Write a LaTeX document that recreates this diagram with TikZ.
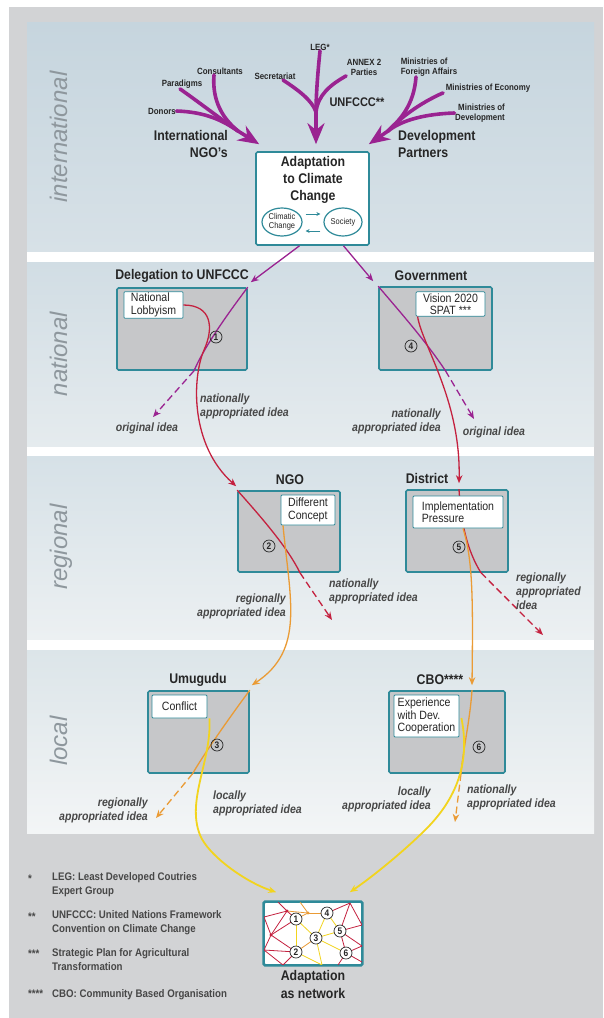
\documentclass[tikz,border=0pt]{standalone}
\usepackage{fontspec}
\setmainfont{Liberation Sans}[FakeStretch=0.88]
\newfontfamily\lvlfont{Liberation Sans}
\usetikzlibrary{arrows.meta, shapes.geometric}
\definecolor{outergray}{HTML}{D2D3D5}
\definecolor{tealc}{HTML}{2F8A99}
\definecolor{boxgray}{HTML}{C6C7C9}
\definecolor{purp}{HTML}{9A2391}
\definecolor{redc}{HTML}{C4213F}
\definecolor{orng}{HTML}{EA9B35}
\definecolor{yell}{HTML}{F2D41E}
\definecolor{txt}{HTML}{262626}
\definecolor{lvl}{HTML}{8E979D}
\definecolor{bandAt}{HTML}{C6D5DE}
\definecolor{bandAb}{HTML}{D7E1E7}
\definecolor{bandBt}{HTML}{D1DDE4}
\definecolor{bandBb}{HTML}{E5EBEE}
\definecolor{bandCt}{HTML}{D6E1E7}
\definecolor{bandCb}{HTML}{ECF0F2}
\definecolor{bandDt}{HTML}{DCE5E9}
\definecolor{bandDb}{HTML}{F3F5F6}

\begin{document}
\begin{tikzpicture}[x=1pt, y=-1pt,
  bigbox/.style={draw=tealc, line width=1.6pt, fill=boxgray, rounded corners=1.5pt, inner sep=0pt},
  tag/.style={draw=tealc, line width=0.8pt, fill=white, rounded corners=1pt, inner sep=1.5pt, font=\fontsize{12}{12.5}\selectfont, text=txt},
  num/.style={circle, draw=txt, line width=0.7pt, fill=none, inner sep=0pt, minimum size=12pt, font=\bfseries\fontsize{9.5}{9.5}\selectfont, text=txt},
  head/.style={font=\bfseries\fontsize{14}{17}\selectfont, text=txt},
  actor/.style={font=\bfseries\fontsize{9}{10}\selectfont, text=txt, align=center, inner sep=0.5pt},
  idea/.style={font=\bfseries\itshape\fontsize{12}{14}\selectfont, text=black!72, inner sep=0pt},
  note/.style={font=\bfseries\fontsize{11}{14}\selectfont, text=black!72, inner sep=0pt, align=left},
  level/.style={rotate=90, anchor=base, font=\lvlfont\itshape\fontsize{24}{24}\selectfont, text=lvl},
  fat/.style={draw=purp, line width=3.6pt, line cap=round},
  fathead/.style={draw=purp, line width=3.6pt, -{Stealth[length=21pt, width=17pt]}},
  idealine/.style={line width=1.3pt},
  ideaarrow/.style={line width=1.3pt, -{Stealth[length=8pt, width=6.5pt]}},
  broken/.style={dash pattern=on 7pt off 4pt},
  netline/.style={line width=0.8pt}]
  \useasboundingbox (0,0) rectangle (603,1018);
  \fill[white] (0,0) rectangle (603,1018);
  \fill[outergray] (9,7) rectangle (603,1018);
  \fill[white] (27,22) rectangle (594,833);
  \shade[top color=bandAt, bottom color=bandAb] (27,22) rectangle (594,251);
  \shade[top color=bandBt, bottom color=bandBb] (27,262) rectangle (594,446);
  \shade[top color=bandCt, bottom color=bandCb] (27,456) rectangle (594,639);
  \shade[top color=bandDt, bottom color=bandDb] (27,650) rectangle (594,833);

  \node[level] (lvint) at (67,137) {international};
  \node[level] (lvnat) at (67,354) {national};
  \node[level] (lvreg) at (67,547) {regional};
  \node[level] (lvloc) at (67,741) {local};

  \node[actor] (donors) at (162,111) {Donors};
  \node[actor] (paradigms) at (182,84) {Paradigms};
  \node[actor] (consult) at (220,71) {Consultants};
  \node[actor] (secret) at (275,76) {Secretariat};
  \node[actor] (leg) at (320,47) {LEG*};
  \node[actor] (annex) at (364,67) {ANNEX 2\\Parties};
  \node[actor, align=left] (foreign) at (429,67) {Ministries of\\Foreign Affairs};
  \node[actor] (economy) at (488,88) {Ministries of Economy};
  \node[actor, align=right] (develop) at (480,113) {Ministries of\\Development};
  \node[head, align=right, anchor=east, inner sep=0pt] (intngo) at (228,144) {International\\NGO's};
  \node[head, font=\bfseries\fontsize{12.5}{14}\selectfont] (unfccc) at (357,102) {UNFCCC**};
  \node[head, align=left, anchor=west, inner sep=0pt] (devpart) at (398,144) {Development\\Partners};

  \node[bigbox, fill=white, minimum width=113pt, minimum height=93pt] (adapt) at (312.5,198.5) {};
  \node[head, align=center] (adtitle) at (313,180) {Adaptation\\to Climate\\Change};
  \node[ellipse, draw=tealc, line width=1.2pt, fill=white, minimum width=40pt, minimum height=28pt, inner sep=0pt, font=\fontsize{8.5}{9}\selectfont, text=txt, align=center] (clim) at (282,222) {Climatic\\Change};
  \node[ellipse, draw=tealc, line width=1.2pt, fill=white, minimum width=38pt, minimum height=28pt, inner sep=0pt, font=\fontsize{8.5}{9}\selectfont, text=txt] (soc) at (343,222) {Society};
  \draw[tealc, line width=1pt, -{Stealth[length=4pt, width=4pt]}] ([shift={(3pt,8pt)}]clim.east) -- ([shift={(-3pt,8pt)}]soc.west);
  \draw[tealc, line width=1pt, -{Stealth[length=4pt, width=4pt]}] ([shift={(-3pt,-9pt)}]soc.west) -- ([shift={(3pt,-9pt)}]clim.east);

  \coordinate (mngo) at (238,131);
  \coordinate (munf) at (316,112);
  \coordinate (mdev) at (388,131);
  \draw[fat] (donors.east) .. controls (205,112) and (222,120) .. (mngo);
  \draw[fat] ([xshift=-2pt]paradigms.south) .. controls (200,103) and (222,120) .. (mngo);
  \draw[fat] ([xshift=-6pt]consult.south) .. controls (212,100) and (222,118) .. (mngo);
  \draw[fathead] (mngo) -- ([shift={(4pt,7pt)}]adapt.north west);
  \draw[fat] ([xshift=8pt]secret.south) .. controls (298,90) and (312,100) .. (munf);
  \draw[fat] (leg.south) .. controls (317,80) and (316,100) .. (munf);
  \draw[fat] (annex.south west) .. controls (330,85) and (318,95) .. (munf);
  \draw[fathead] (munf) -- ([shift={(3.5pt,7pt)}]adapt.north);
  \draw[fat] ([xshift=-13pt]foreign.south) .. controls (414,105) and (400,120) .. (mdev);
  \draw[fat] ([xshift=-2pt]economy.south west) .. controls (420,103) and (400,118) .. (mdev);
  \draw[fat] (develop.west) .. controls (425,114) and (402,120) .. (mdev);
  \draw[fathead] (mdev) -- ([shift={(-1pt,7pt)}]adapt.north east);

  \node[bigbox, minimum width=130pt, minimum height=82pt] (dele) at (182,329) {};
  \node[head] (deleh) at (182,276) {Delegation to UNFCCC};
  \node[bigbox, minimum width=113pt, minimum height=83pt] (govt) at (435.5,328.5) {};
  \node[head] (govth) at (431,276) {Government};
  \node[bigbox, minimum width=102pt, minimum height=81pt] (ngo) at (289,531.5) {};
  \node[head] (ngoh) at (290,480) {NGO};
  \node[bigbox, minimum width=102pt, minimum height=82pt] (dist) at (457,531) {};
  \node[head] (disth) at (427,478) {District};
  \node[bigbox, minimum width=101pt, minimum height=82pt] (umug) at (198.5,732) {};
  \node[head] (umugh) at (198,680) {Umugudu};
  \node[bigbox, minimum width=116pt, minimum height=82pt] (cbo) at (447,732) {};
  \node[head] (cboh) at (440,680) {CBO****};
  \node[bigbox, fill=white, minimum width=98pt, minimum height=63pt] (net) at (313,933.5) {};
  \node[head, align=center, font=\bfseries\fontsize{14}{18}\selectfont] (neth) at (313,984) {Adaptation\\as network};

  \coordinate (oi1) at (153,417);
  \coordinate (oi2) at (474,419);
  \coordinate (ni1) at (332,620);
  \coordinate (ri1) at (543,635);
  \coordinate (ui1) at (156,818);
  \coordinate (ci1) at (455,822);

  \draw[ideaarrow, purp] ([xshift=-13pt]adapt.south) -- ([shift={(3pt,5pt)}]dele.north east);
  \draw[ideaarrow, purp] ([xshift=31pt]adapt.south) -- ([shift={(-5pt,5pt)}]govt.north west);
  \draw[idealine, purp] (dele.north east) .. controls (232,308) and (205,345) .. ([xshift=12pt]dele.south);
  \draw[ideaarrow, purp, broken] ([xshift=12pt]dele.south) -- (oi1);
  \draw[idealine, purp] (govt.north west) .. controls (400,312) and (425,340) .. ([xshift=10pt]govt.south);
  \draw[ideaarrow, purp, broken] ([xshift=10pt]govt.south) -- (oi2);

  \draw[idealine, redc] (ngo.north west) .. controls (262,518) and (288,548) .. ([xshift=11pt]ngo.south);
  \draw[ideaarrow, redc, broken] ([xshift=11pt]ngo.south) -- (ni1);
  \draw[idealine, redc] ([xshift=2pt]dist.north) .. controls (461,525) and (468,552) .. ([xshift=24pt]dist.south);
  \draw[ideaarrow, redc, broken] ([xshift=24pt]dist.south) -- (ri1);

  \draw[idealine, orng] (umug.north east) .. controls (235,710) and (205,752) .. ([xshift=-6pt]umug.south);
  \draw[ideaarrow, orng, broken] ([xshift=-6pt]umug.south) -- (ui1);
  \draw[idealine, orng] ([xshift=25pt]cbo.north) .. controls (470,720) and (463,750) .. ([xshift=14pt]cbo.south);
  \draw[ideaarrow, orng, broken] ([xshift=14pt]cbo.south) -- (ci1);

  \node[tag, align=left, minimum width=59pt, minimum height=26pt] (lobby) at (153.5,305) {National\\Lobbyism};
  \node[tag, align=center, minimum width=69pt, minimum height=24pt] (vision) at (450.5,304) {Vision 2020\\SPAT ***};
  \node[tag, align=left, minimum width=54pt, minimum height=30pt] (concept) at (308,510) {Different\\Concept};
  \node[tag, align=left, minimum width=90pt, minimum height=32pt] (impl) at (458,512) {Implementation\\Pressure};
  \node[tag, minimum width=55pt, minimum height=23pt] (conflict) at (179.5,706.5) {Conflict};
  \node[tag, align=left, minimum width=65pt, minimum height=42pt] (exper) at (426.5,716) {Experience\\with Dev.\\Cooperation};

  \draw[ideaarrow, redc] (lobby.east) .. controls (212,305) and (214,328) .. (204,350) .. controls (192,378) and (190,445) .. ([shift={(-1pt,4pt)}]ngo.north west);
  \draw[ideaarrow, redc] ([xshift=2pt]vision.south west) .. controls (422,345) and (461,400) .. ([shift={(2pt,6pt)}]dist.north);
  \draw[ideaarrow, orng] ([xshift=-25pt]concept.south) .. controls (290,600) and (305,650) .. ([shift={(2pt,5pt)}]umug.north east);
  \draw[ideaarrow, orng] ([xshift=5pt]impl.south) .. controls (473,560) and (473,600) .. ([shift={(25pt,5pt)}]cbo.north);
  \draw[ideaarrow, yell, line width=1.8pt] ([xshift=2pt]conflict.south east) .. controls (212,760) and (186,800) .. (200,835) .. controls (208,855) and (245,882) .. ([shift={(13pt,9pt)}]net.north west);
  \draw[ideaarrow, yell, line width=1.8pt] ([shift={(2pt,-2pt)}]exper.east) .. controls (470,760) and (458,795) .. (430,825) .. controls (410,846) and (375,875) .. ([shift={(-13pt,9pt)}]net.north east);

  \node[num] (n1) at (216,337) {1};
  \node[num] (n4) at (411,346) {4};
  \node[num] (n2) at (269,546) {2};
  \node[num] (n5) at (459,547) {5};
  \node[num] (n3) at (217,745) {3};
  \node[num] (n6) at (479,747) {6};

  \node[idea] (orig1) at (147,428) {original idea};
  \node[idea, align=left, anchor=west] (napp1) at (200,406) {nationally\\appropriated idea};
  \node[idea, align=right, anchor=east] (napp2) at (441,421) {nationally\\appropriated idea};
  \node[idea] (orig2) at (494,432) {original idea};
  \node[idea, align=right, anchor=east] (rapp1) at (286,606) {regionally\\appropriated idea};
  \node[idea, align=left, anchor=west] (napp3) at (329,591) {nationally\\appropriated idea};
  \node[idea, align=left, anchor=west] (rapp2) at (516,591) {regionally\\appropriated\\idea};
  \node[idea, align=right, anchor=east] (rapp3) at (148,810) {regionally\\appropriated idea};
  \node[idea, align=left, anchor=west] (lapp1) at (213,803) {locally\\appropriated idea};
  \node[idea, align=right, anchor=east] (lapp2) at (431,799) {locally\\appropriated idea};
  \node[idea, align=left, anchor=west] (napp4) at (467,797) {nationally\\appropriated idea};

  \begin{scope}
    \clip (net.south west) rectangle (net.north east);
    \foreach \p/\x/\y in {pa/287/911, pb/271/935, pc/308/913, pd/350/903, pe/264/917, pf/278/902, pg/264/950, ph/283/965, pi/322/965, pj/362/925, pk/362/946, pl/338/965, pm/300/902, pn/362/962,
      q1/296/919, q2/296/952, q3/316/938, q4/327/913, q5/340/931, q6/346/953}
      \coordinate (\p) at (\x,\y);
    \foreach \a/\b in {pe/pa, pf/pa, pa/pb, pb/pe, pb/pg, pa/q1, pb/q1, pb/q2, pg/q2, q2/ph, q4/pd, pd/pj, q5/pj, q5/pk, q6/pk, q6/pn, q6/pl, q5/q6, pd/q5, pg/ph}
      \draw[netline, redc] (\a) -- (\b);
    \foreach \a/\b in {pa/pc, pc/q4, pc/pm, q2/q3, q1/pc}
      \draw[netline, orng] (\a) -- (\b);
    \foreach \a/\b in {q1/q3, q3/q4, q3/q6, q3/pi, q2/pi, q4/q5, q3/q5, q1/q2}
      \draw[netline, yell] (\a) -- (\b);
    \fill[redc] (pa) circle (1.6pt) (pb) circle (1.6pt);
    \fill[orng] (pc) circle (1.6pt);
  \end{scope}
  \draw[tealc, line width=1.6pt, rounded corners=1.5pt] (net.south west) rectangle (net.north east);
  \foreach \k in {1,...,6}
    \node[num, fill=white] (net\k) at (q\k) {\k};

  \node[note, anchor=base west] (fm1) at (28,882) {*};
  \node[note, anchor=base west] (fm2) at (28,920) {**};
  \node[note, anchor=base west] (fm3) at (28,957) {***};
  \node[note, anchor=base west] (fm4) at (28,997) {****};
  \node[note, anchor=west] (fn1) at (52,885) {LEG: Least Developed Coutries\\Expert Group};
  \node[note, anchor=west] (fn2) at (52,923) {UNFCCC: United Nations Framework\\Convention on Climate Change};
  \node[note, anchor=west] (fn3) at (52,960) {Strategic Plan for Agricultural\\Transformation};
  \node[note, anchor=base west] (fn4) at (52,997) {CBO: Community Based Organisation};
\end{tikzpicture}
\end{document}
